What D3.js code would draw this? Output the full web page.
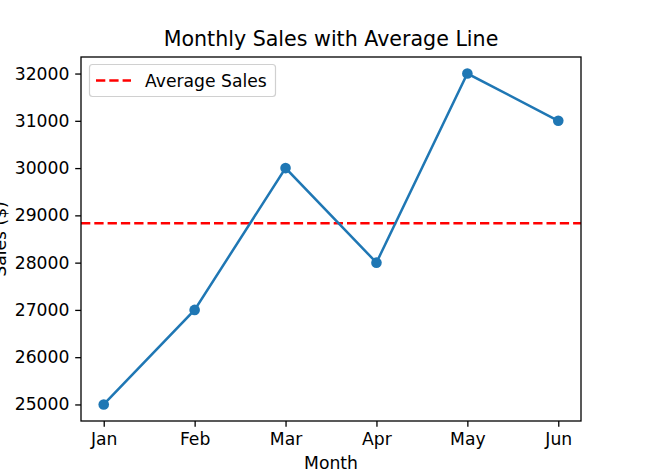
<!DOCTYPE html>
<html><head><meta charset="utf-8">
<script src="https://cdn.jsdelivr.net/npm/d3@7"></script>
<style>body{margin:0;background:#fff}svg{display:block}text{font-family:"DejaVu Sans",sans-serif;fill:#000}</style>
</head><body>
<svg id="c" width="645" height="472"></svg>
<script>
const months = ["Jan","Feb","Mar","Apr","May","Jun"];
const sales = [25000,27000,30000,28000,32000,31000];
const yTicks = [25000,26000,27000,28000,29000,30000,31000,32000];
const avg = d3.mean(sales);

const svg = d3.select("#c");
const L=81,R=581,T=57,B=421;
const FS=17.2;
const x = d3.scaleLinear().domain([-0.25,5.25]).range([L,R]);
const yMin=d3.min(sales), yMax=d3.max(sales), pad=(yMax-yMin)*0.05;
const y = d3.scaleLinear().domain([yMin-pad,yMax+pad]).range([B,T]);

svg.append("rect").attr("x",0).attr("y",0).attr("width",645).attr("height",472).attr("fill","#fff");

// axes
const xa = svg.append("g").attr("transform",`translate(0,${B})`)
  .call(d3.axisBottom(x).tickValues(d3.range(months.length)).tickFormat(i=>months[i]).tickSize(5.8).tickPadding(5.8));
const ya = svg.append("g").attr("transform",`translate(${L},0)`)
  .call(d3.axisLeft(y).tickValues(yTicks).tickFormat(d3.format("d")).tickSize(5.8).tickPadding(5.8));
[xa,ya].forEach(g=>{
  g.select(".domain").remove();
  g.selectAll(".tick line").attr("stroke","#000").attr("stroke-width",1.3);
  g.selectAll(".tick text").style("font-size",FS+"px").style("font-family","DejaVu Sans");
});

// avg line
svg.append("line").attr("x1",L).attr("x2",R).attr("y1",y(avg)).attr("y2",y(avg))
  .attr("stroke","#ff0000").attr("stroke-width",2.5).attr("stroke-dasharray","9.3,4");

// series
svg.append("path").datum(sales)
  .attr("d",d3.line().x((d,i)=>x(i)).y(d=>y(d)))
  .attr("fill","none").attr("stroke","#1f77b4").attr("stroke-width",2.5);
svg.selectAll("circle.pt").data(sales).enter().append("circle")
  .attr("cx",(d,i)=>x(i)).attr("cy",d=>y(d)).attr("r",5.3).attr("fill","#1f77b4");

// frame
svg.append("rect").attr("x",L).attr("y",T).attr("width",R-L).attr("height",B-T)
  .attr("fill","none").attr("stroke","#000").attr("stroke-width",1.3);

// legend
const lg = svg.append("g");
lg.append("rect").attr("x",89.5).attr("y",64.5).attr("width",186).attr("height",32).attr("rx",3)
  .attr("fill","#fff").attr("fill-opacity",0.8).attr("stroke","#d0d0d0").attr("stroke-width",1.2);
lg.append("line").attr("x1",96).attr("x2",131).attr("y1",80.5).attr("y2",80.5)
  .attr("stroke","#ff0000").attr("stroke-width",2.5).attr("stroke-dasharray","9.3,4");
lg.append("text").attr("x",145).attr("y",86.5).style("font-size",FS+"px").text("Average Sales");

// titles
svg.append("text").attr("x",(L+R)/2).attr("y",46).attr("text-anchor","middle").style("font-size","20.6px").text("Monthly Sales with Average Line");
svg.append("text").attr("x",(L+R)/2).attr("y",469).attr("text-anchor","middle").style("font-size",FS+"px").text("Month");
svg.append("text").attr("transform",`translate(6,${(T+B)/2}) rotate(-90)`).attr("text-anchor","middle").style("font-size",FS+"px").text("Sales ($)");
</script>
</body></html>
